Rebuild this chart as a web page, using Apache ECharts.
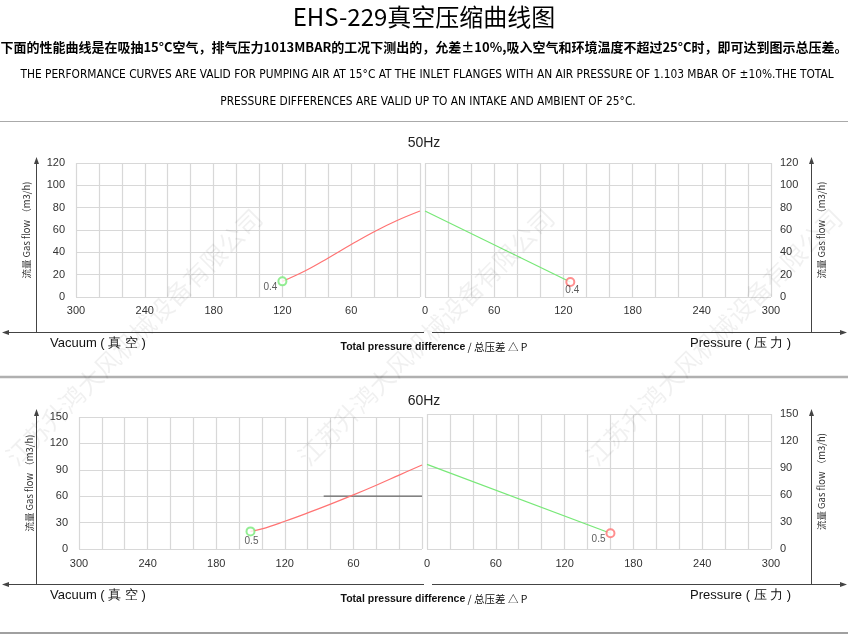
<!DOCTYPE html>
<html><head><meta charset="utf-8">
<script src="https://cdn.jsdelivr.net/npm/echarts@6/dist/echarts.min.js"></script>
<style>html,body{margin:0;padding:0;background:#fff}#c{width:848px;height:639px}</style>
</head><body><div id="c"></div>
<script>
// ---------- data ----------
const titleText = 'EHS-229真空压缩曲线图';
const noteCN = '下面的性能曲线是在吸抽15°C空气，排气压力1013MBAR的工况下测出的，允差±10%,吸入空气和环境温度不超过25°C时，即可达到图示总压差。';
const noteEN1 = 'THE PERFORMANCE CURVES ARE VALID FOR PUMPING AIR AT 15°C AT THE INLET FLANGES WITH AN AIR PRESSURE OF 1.103 MBAR OF ±10%.THE TOTAL';
const noteEN2 = 'PRESSURE DIFFERENCES ARE VALID UP TO AN INTAKE AND AMBIENT OF 25°C.';
const panelTitles = ['50Hz', '60Hz'];
const xMax = 300;
const xGridStep = 20;
const xLabelStep = 60;
const yMax = [120, 150];
const yStep = [20, 30];
const yName = '流量 Gas flow （m3/h)';
const vacuumLabel = 'Vacuum ( 真 空 )';
const pressureLabel = 'Pressure ( 压 力 )';
const deltaLabelEn = 'Total pressure difference';
const deltaLabelCn = ' / 总压差 △ P';
const watermark = '江苏升鸿大风机械设备有限公司';
// vacuum side: [vacuum mbar, flow m3/h]
const vac50 = [[120, 14], [100, 23.5], [80, 35], [60, 47], [40, 58.5], [20, 68.5], [0, 77]];
const vac60 = [[150, 20], [140, 22.8], [120, 31.5], [100, 41], [80, 51], [60, 61.5], [40, 72.5], [20, 84], [0, 95.4]];
// pressure side: [pressure mbar, flow m3/h]
const prs50 = [[0, 77], [126, 13.5]];
const prs60 = [[0, 94], [160, 17.5]];
const endLabels = ['0.4', '0.5'];
const refLine60 = [[86, 60], [0, 60]];

// ---------- layout ----------
const RED = '#ff7373', GREEN = '#78e878', AX = '#444';
const FONT = '"Liberation Sans", Arial, sans-serif';
const CJK = '"Noto Sans CJK SC", sans-serif';
const NARROW = '"Liberation Sans Narrow", "DejaVu Sans Condensed", sans-serif';
const grids = [
  {left: 76, right: 428, top: 163, height: 134},
  {left: 425, right: 77, top: 163, height: 134},
  {left: 79, right: 426, top: 417, height: 132},
  {left: 427, right: 77, top: 414, height: 135}
];
const xAxes = [], yAxes = [];
grids.forEach((g, i) => {
  const panel = i < 2 ? 0 : 1;
  const isLeft = i % 2 === 0;
  xAxes.push({
    type: 'value', gridIndex: i, min: 0, max: xMax, interval: xGridStep, inverse: isLeft,
    axisLine: {show: false}, axisTick: {show: false},
    axisLabel: {color: '#333', fontSize: 11, fontFamily: FONT, margin: panel ? 9 : 8,
      formatter: v => (v % xLabelStep === 0 && !(isLeft && v === 0) ? String(v) : '')},
    splitLine: {show: true, lineStyle: {color: '#d8d8d8', width: 1.2}}
  });
  yAxes.push({
    type: 'value', gridIndex: i, min: 0, max: yMax[panel], interval: yStep[panel],
    position: isLeft ? 'left' : 'right',
    axisLine: {show: false}, axisTick: {show: false},
    axisLabel: {color: '#333', fontSize: 11, fontFamily: FONT, margin: isLeft ? 11 : 9},
    splitLine: {show: true, lineStyle: {color: '#d8d8d8', width: 1.2}},
    name: yName, nameLocation: 'middle', nameRotate: 90, nameGap: isLeft ? 45 : 46,
    nameTextStyle: {color: '#333', fontSize: 9.5, fontFamily: CJK}
  });
});

function curve(data, gi, color, smooth) {
  return {type: 'line', xAxisIndex: gi, yAxisIndex: gi, data: data, smooth: smooth,
    symbol: 'none', lineStyle: {color: color, width: 1.2}, z: 3, silent: true};
}
function endMark(pt, gi, color, label, pos, dist, off) {
  return {type: 'scatter', xAxisIndex: gi, yAxisIndex: gi, data: [pt], symbol: 'emptyCircle', symbolSize: 8,
    itemStyle: {color: color, borderColor: color, borderWidth: 1.2}, z: 4,
    label: {show: true, formatter: label, position: pos, distance: dist, offset: off,
      color: '#333', fontSize: 10, fontFamily: FONT}};
}
const series = [
  curve(vac50, 0, RED, 0.4),
  endMark(vac50[0], 0, GREEN, endLabels[0], 'left', 0, [0, 6]),
  curve(prs50, 1, GREEN, false),
  endMark(prs50[prs50.length - 1], 1, RED, endLabels[0], 'bottom', 0, [2, -2]),
  curve(vac60, 2, RED, 0.4),
  endMark(vac60[0], 2, GREEN, endLabels[1], 'bottom', 0, [1, 0]),
  curve(prs60, 3, GREEN, false),
  endMark(prs60[prs60.length - 1], 3, RED, endLabels[1], 'left', 0, [0, 6]),
  {type: 'line', xAxisIndex: 2, yAxisIndex: 2, data: refLine60, symbol: 'none',
    lineStyle: {color: '#666', width: 1.2}, z: 2, silent: true}
];

// ---------- decorations ----------
const G = [];
function txt(x, y, text, style) {
  G.push({type: 'text', x: x, y: y, z: 10, style: Object.assign({text: text, fill: '#000', align: 'center', verticalAlign: 'middle'}, style)});
}
function ln(x1, y1, x2, y2, color, w) {
  G.push({type: 'line', z: 10, shape: {x1: x1, y1: y1, x2: x2, y2: y2}, style: {stroke: color, lineWidth: w}});
}
function tri(pts) {
  G.push({type: 'polygon', z: 10, shape: {points: pts}, style: {fill: AX}});
}
txt(424, 17, titleText, {fontSize: 24, fontFamily: CJK});
txt(424, 47, noteCN, {fontSize: 13, fontWeight: 'bold', fontFamily: CJK});
txt(427, 75, noteEN1, {fontSize: 11.8, fontFamily: NARROW});
txt(428, 102, noteEN2, {fontSize: 11.8, fontFamily: NARROW});
ln(0, 121.5, 848, 121.5, '#aaa', 1);

const frames = [{tip: 157, base: 332.5, ttl: 143, lbl: 343}, {tip: 409, base: 584.5, ttl: 401, lbl: 595}];
frames.forEach((f, k) => {
  txt(424, f.ttl, panelTitles[k], {fontSize: 14, fontFamily: FONT, fill: '#222'});
  ln(36.5, f.tip + 4, 36.5, f.base, AX, 1);
  ln(811.5, f.tip + 4, 811.5, f.base, AX, 1);
  tri([[36.5, f.tip], [34, f.tip + 7], [39, f.tip + 7]]);
  tri([[811.5, f.tip], [809, f.tip + 7], [814, f.tip + 7]]);
  ln(8, f.base, 424, f.base, AX, 1);
  ln(432, f.base, 841, f.base, AX, 1);
  tri([[2, f.base], [9, f.base - 2.5], [9, f.base + 2.5]]);
  tri([[847, f.base], [840, f.base - 2.5], [840, f.base + 2.5]]);
  txt(50, f.lbl, vacuumLabel, {fontSize: 13, fontFamily: FONT, fill: '#111', align: 'left'});
  txt(690, f.lbl, pressureLabel, {fontSize: 13, fontFamily: FONT, fill: '#111', align: 'left'});
  txt(434, f.lbl + 4, '{b|' + deltaLabelEn + '}' + deltaLabelCn, {fontSize: 10.5, fontFamily: CJK, fill: '#111',
    rich: {b: {fontSize: 10.5, fontWeight: 'bold', fontFamily: FONT, fill: '#111'}}});
});
ln(0, 377, 848, 377, '#b0b0b0', 2.5);
ln(0, 633, 848, 633, '#a0a0a0', 2);

[134, 426, 714].forEach(cx => {
  G.push({type: 'text', x: cx, y: 337, rotation: Math.PI / 4, z: 20, silent: true,
    style: {text: watermark, fontSize: 25, fontFamily: CJK, fill: 'rgba(0,0,0,0.06)', align: 'center', verticalAlign: 'middle'}});
});

const chart = echarts.init(document.getElementById('c'), null, {renderer: 'canvas'});
chart.setOption({
  animation: false,
  backgroundColor: '#fff',
  grid: grids,
  xAxis: xAxes,
  yAxis: yAxes,
  series: series,
  graphic: G
});
</script></body></html>
